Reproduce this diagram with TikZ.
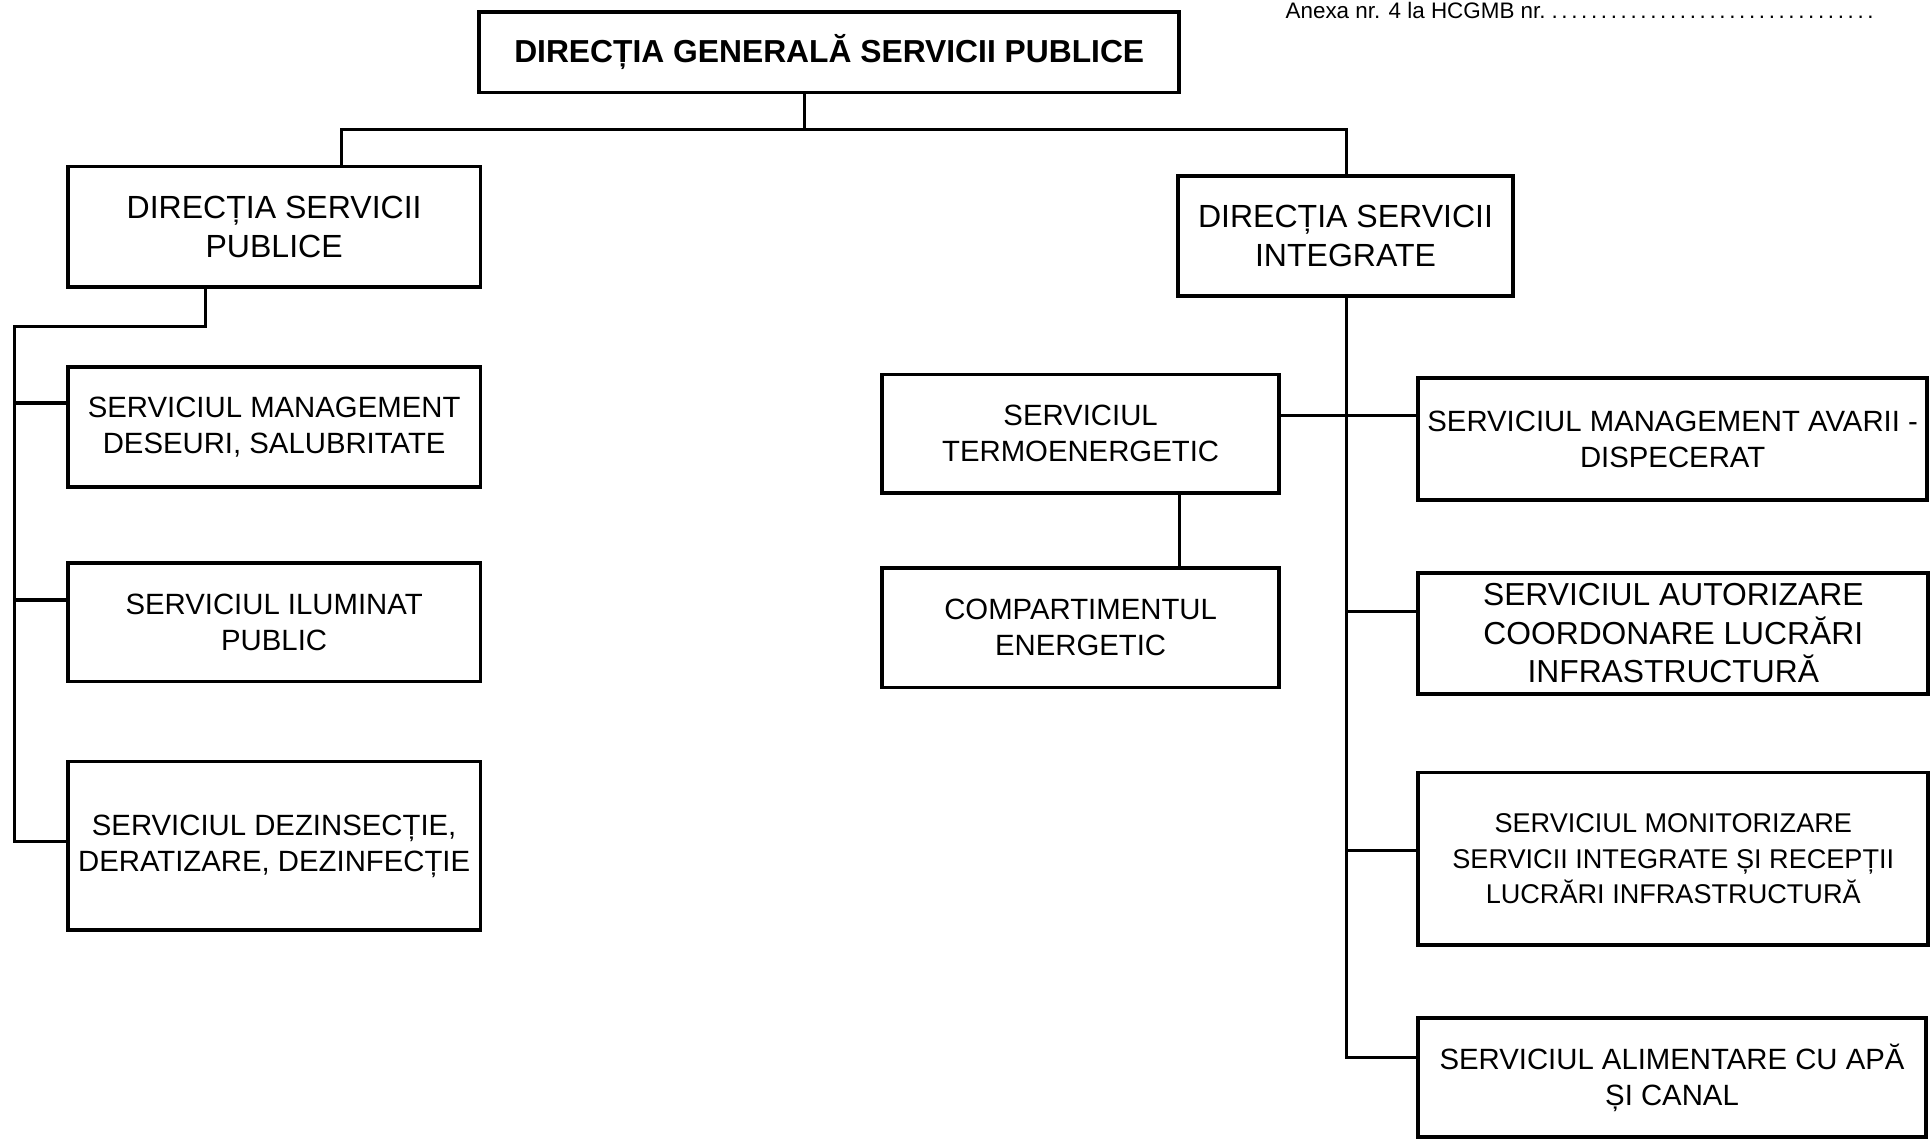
\documentclass[tikz,border=0pt]{standalone}
\usepackage{fontspec}
\setmainfont{Liberation Sans}
\begin{document}
\begin{tikzpicture}[x=0.5pt,y=-0.5pt,
  box/.style={draw, line width=1.5pt, align=center, inner sep=0pt},
  ln/.style={line width=1.3pt},
  fT/.style={font=\bfseries\fontsize{12.9}{15.5}\selectfont},
  fA/.style={font=\fontsize{13}{16}\selectfont},
  fB/.style={font=\fontsize{11.9}{14.6}\selectfont},
  fC/.style={font=\fontsize{12.9}{15.6}\selectfont},
  fD/.style={font=\fontsize{11}{14.3}\selectfont}]
\path[use as bounding box] (0,0) rectangle (1568,928);
\clip (0,0) rectangle (1568,928);

\node[anchor=base west, inner sep=0pt, font=\fontsize{9.1}{11}\selectfont] (anexa) at (1043,15)
  {\hbox to 241pt{Anexa nr. 4 la HCGMB nr.\dotfill}};

\node[box,fT,minimum width=284pt,minimum height=32.5pt] (top) at (673,42.5) {DIRECȚIA GENERALĂ SERVICII PUBLICE};

\node[box,fA,minimum width=167.5pt,minimum height=49pt] (dsp) at (222.5,184) {DIRECȚIA SERVICII\\PUBLICE};
\node[box,fA,minimum width=136pt,minimum height=48.5pt] (dsi) at (1092,191.5) {DIRECȚIA SERVICII\\INTEGRATE};

\node[box,fB,minimum width=167.5pt,minimum height=48.5pt] (l1) at (222.5,346.5) {SERVICIUL MANAGEMENT\\DESEURI, SALUBRITATE};
\node[box,fB,minimum width=167.5pt,minimum height=48pt] (l2) at (222.5,505) {SERVICIUL ILUMINAT\\PUBLIC};
\node[box,fB,minimum width=167.5pt,minimum height=68.5pt] (l3) at (222.5,686.5) {SERVICIUL DEZINSECȚIE,\\DERATIZARE, DEZINFECȚIE};

\node[box,fB,minimum width=161pt,minimum height=48pt] (termo) at (877,352) {SERVICIUL\\TERMOENERGETIC};
\node[box,fB,minimum width=161pt,minimum height=48.5pt] (comp) at (877,509.5) {COMPARTIMENTUL\\ENERGETIC};

\node[box,fB,minimum width=206.5pt,minimum height=49.5pt] (avarii) at (1357.5,356.5) {SERVICIUL MANAGEMENT AVARII -\\DISPECERAT};
\node[box,fC,minimum width=207pt,minimum height=49pt] (autor) at (1358,514) {SERVICIUL AUTORIZARE\\COORDONARE LUCRĂRI\\INFRASTRUCTURĂ};
\node[box,fD,minimum width=207pt,minimum height=70pt] (monit) at (1358,697) {SERVICIUL MONITORIZARE\\SERVICII INTEGRATE ȘI RECEPȚII\\LUCRĂRI INFRASTRUCTURĂ};
\node[box,fB,minimum width=206pt,minimum height=48.5pt] (alim) at (1357,874.5) {SERVICIUL ALIMENTARE CU APĂ\\ȘI CANAL};

% top level connectors
\coordinate (jt) at (653,105);
\coordinate (al) at (277,105);
\coordinate (ar) at (1093,105);
\draw[ln] (jt |- top.south) -- (jt);
\draw[ln] (al |- dsp.north) -- (al) -- (ar) -- (ar |- dsi.north);

% left branch
\coordinate (bl) at (167,265);
\coordinate (cl) at (12,265);
\coordinate (b1) at (12,327);
\coordinate (b2) at (12,487);
\coordinate (b3) at (12,683);
\draw[ln] (bl |- dsp.south) -- (bl) -- (cl) -- (b3) -- (b3 -| l3.west);
\draw[ln] (b1) -- (b1 -| l1.west);
\draw[ln] (b2) -- (b2 -| l2.west);

% right branch
\coordinate (r1) at (1093,337);
\coordinate (r2) at (1093,496);
\coordinate (r3) at (1093,690);
\coordinate (r4) at (1093,858);
\draw[ln] (r4 |- dsi.south) -- (r4) -- (r4 -| alim.west);
\draw[ln] (r1 -| termo.east) -- (r1 -| avarii.west);
\draw[ln] (r2) -- (r2 -| autor.west);
\draw[ln] (r3) -- (r3 -| monit.west);

% termo to compartiment
\coordinate (tc) at (957,430);
\draw[ln] (tc |- termo.south) -- (tc |- comp.north);
\end{tikzpicture}
\end{document}
